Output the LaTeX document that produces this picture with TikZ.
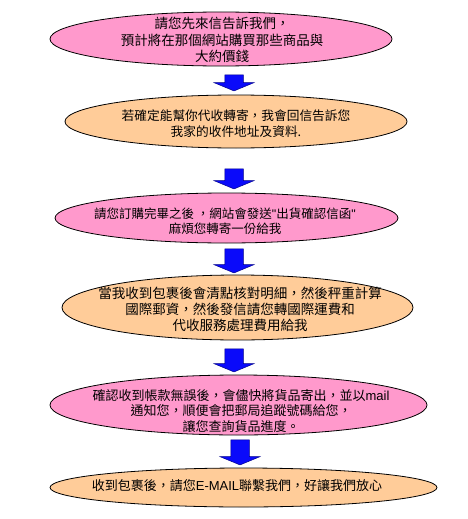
\documentclass[tikz,border=0pt]{standalone}
\usepackage{fontspec}
\setmainfont{Noto Sans CJK TC}
\newfontfamily\lat{Liberation Sans}
\usetikzlibrary{shapes.geometric,shapes.arrows}
\definecolor{pinkf}{RGB}{255,153,204}
\definecolor{peachf}{RGB}{255,204,153}
\definecolor{arrowf}{RGB}{10,10,250}
\definecolor{arrowd}{RGB}{0,0,140}
\newcommand{\shaftbox}{\rule{0pt}{18pt}}
\tikzset{
  bubble/.style={ellipse, draw=black, line width=0.8pt, inner sep=0pt},
  pinkb/.style={bubble, fill=pinkf},
  peachb/.style={bubble, fill=peachf},
  txt/.style={align=center, font=\fontsize{12.5}{15.5}\selectfont, inner sep=0pt},
  bigtxt/.style={align=center, font=\fontsize{13.5}{16.3}\selectfont, inner sep=0pt},
  midtxt/.style={align=center, font=\fontsize{13}{15.2}\selectfont, inner sep=0pt},
  blk/.style={single arrow, draw=arrowd, fill=arrowf, line width=0.5pt,
    inner sep=0pt, single arrow head extend=10.5pt,
    single arrow tip angle=135, rotate=-90}
}
\begin{document}
\begin{tikzpicture}[x=1pt,y=-1pt]
\useasboundingbox (0,0) rectangle (468,519);
\fill[white] (0,0) rectangle (468,519);
% ellipses
\node[pinkb, minimum width=342pt, minimum height=54pt] (e1) at (221,39) {};
\node[peachb, minimum width=342pt, minimum height=53pt] (e2) at (236,121.5) {};
\node[pinkb, minimum width=343pt, minimum height=50pt] (e3) at (226.5,218) {};
\node[peachb, minimum width=351pt, minimum height=65pt] (e4) at (237.5,307.5) {};
\node[pinkb, minimum width=377pt, minimum height=60pt] (e5) at (238.5,405) {};
\node[peachb, minimum width=387pt, minimum height=39pt] (e6) at (243.5,487.5) {};
% texts
\node[bigtxt] (t1) at (222,40) {請您先來信告訴我們，\\預計將在那個網站購買那些商品與\\大約價錢};
\node[txt, font=\fontsize{12.7}{15.5}\selectfont] (t2) at (236,123.5) {若確定能幫你代收轉寄，我會回信告訴您\\我家的收件地址及資料.};
\node[txt] (t3) at (225,221) {請您訂購完畢之後 ，網站會發送{\lat "}出貨確認信函{\lat "}\\麻煩您轉寄一份給我};
\node[bigtxt] (t4) at (240,309.5) {當我收到包裹後會清點核對明細，然後秤重計算\\國際郵資，然後發信請您轉國際運費和\\代收服務處理費用給我};
\node[midtxt] (t5) at (241,411) {確認收到帳款無誤後，會儘快將貨品寄出，並以{\lat mail}\\通知您，順便會把郵局追蹤號碼給您，\\讓您查詢貨品進度。};
\node[midtxt] (t6) at (237,486) {收到包裹後，請您{\lat E-MAIL}聯繫我們，好讓我們放心};
% block arrows
\node[blk, minimum height=16pt] (a1) at (234,81) {\shaftbox};
\node[blk, minimum height=20pt] (a2) at (234,177) {\shaftbox};
\node[blk, minimum height=24pt] (a3) at (234,259) {\shaftbox};
\node[blk, minimum height=23pt] (a4) at (234,358.5) {\shaftbox};
\node[blk, minimum height=25pt] (a5) at (240,450.5) {\shaftbox};
\end{tikzpicture}
\end{document}
